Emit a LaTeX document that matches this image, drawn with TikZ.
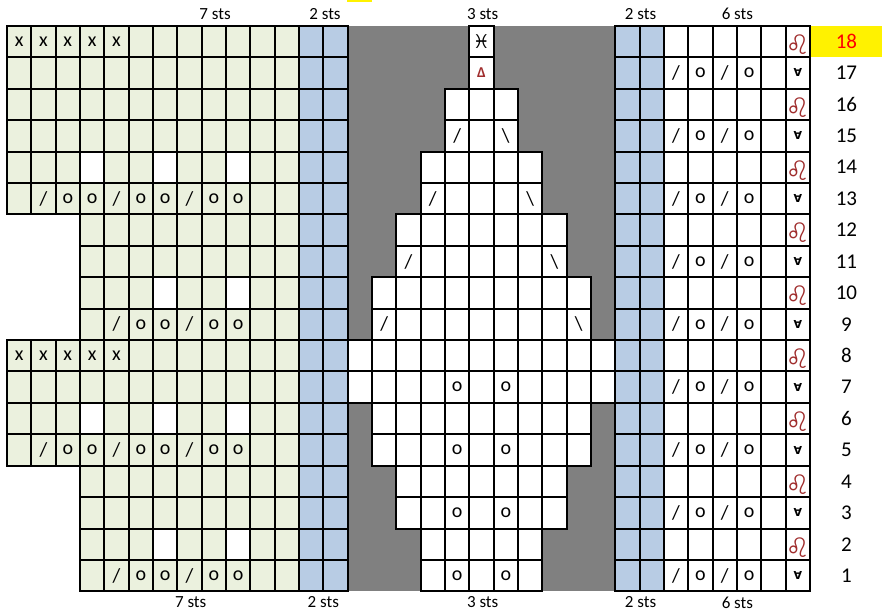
\documentclass[tikz,border=0pt]{standalone}
\usepackage{fontspec}
\setmainfont{Carlito}
\newfontfamily\symbolfont{DejaVu Sans}
\definecolor{lacegreen}{RGB}{235,241,222}
\definecolor{edgeblue}{RGB}{184,204,228}
\definecolor{nostitch}{RGB}{128,128,128}
\definecolor{symred}{RGB}{160,45,45}

\begin{document}
\begin{tikzpicture}[
    x=24.33pt, y=31.42pt,
    font=\fontsize{20}{24}\selectfont,
    cell/.style={
      rectangle,draw=black,fill=white,line width=2pt,
      minimum width=24.33pt,minimum height=31.42pt,inner sep=0pt
    },
    gcell/.style={cell,fill=lacegreen},
    bcell/.style={cell,fill=edgeblue},
    sym/.style={inner sep=0pt},
    leo/.style={sym,text=symred,font=\symbolfont\fontsize{27}{27}\selectfont},
    slip/.style={sym,font=\symbolfont\bfseries\fontsize{11}{11}\selectfont},
    stslabel/.style={font=\fontsize{17}{20}\selectfont},
    rownum/.style={font=\fontsize{21}{24}\selectfont,minimum width=71pt,
      minimum height=31.42pt,inner sep=0pt}
  ]
  \useasboundingbox (-0.2877,-0.6875) rectangle (35.963,18.822);

  % background of the centre panel
  \fill[nostitch] (14,0) rectangle (25,18);
  \fill[yellow] (13.97,18.75) rectangle (14.99,18.9);

  % left panel
  \foreach \r/\a in {18/0,17/0,16/0,15/0,14/0,13/0,12/3,11/3,10/3,9/3,
                     8/0,7/0,6/0,5/0,4/3,3/3,2/3,1/3}
    \foreach \c in {\a,...,11}
      \node[gcell] (l-\r-\c) at (\c+0.5,\r-0.5) {};
  \foreach \r/\c in {14/3,14/6,14/9,10/6,10/9,6/3,6/6,6/9,2/6,2/9}
    \node[cell] (h-\r-\c) at (l-\r-\c) {};

  % edge columns
  \foreach \r in {1,...,18}
    \foreach \c in {12,13,25,26}
      \node[bcell] (b-\r-\c) at (\c+0.5,\r-0.5) {};

  % centre panel
  \foreach \r/\a/\b in {18/19/19,17/19/19,16/18/20,15/18/20,14/17/21,13/17/21,
                        12/16/22,11/16/22,10/15/23,9/15/23,8/14/24,7/14/24,
                        6/15/23,5/15/23,4/16/22,3/16/22,2/17/21,1/17/21}
    \foreach \c in {\a,...,\b}
      \node[cell] (m-\r-\c) at (\c+0.5,\r-0.5) {};

  % right panel
  \foreach \r in {1,...,18}
    \foreach \c in {27,...,32}
      \node[cell] (r-\r-\c) at (\c+0.5,\r-0.5) {};

  % left panel symbols
  \foreach \r in {18,8}
    \foreach \c in {0,...,4}
      \node[sym] (k-\r-\c) at (l-\r-\c) {x};
  \foreach \r in {13,5} {
    \foreach \c in {1,4,7}
      \node[sym] (d-\r-\c) at (l-\r-\c) {/};
    \foreach \c in {2,3,5,6,8,9}
      \node[sym] (y-\r-\c) at (l-\r-\c) {o};
  }
  \foreach \r in {9,1} {
    \foreach \c in {4,7}
      \node[sym] (d-\r-\c) at (l-\r-\c) {/};
    \foreach \c in {5,6,8,9}
      \node[sym] (y-\r-\c) at (l-\r-\c) {o};
  }

  % centre panel symbols
  \node[sym,font=\symbolfont\fontsize{19}{19}\selectfont] (top) at (m-18-19) {♓};
  \node[sym,text=symred,font=\bfseries\fontsize{15}{15}\selectfont] (dec) at (m-17-19) {Δ};
  \foreach \r/\a/\b in {15/18/20,13/17/21,11/16/22,9/15/23} {
    \node[sym] (dl-\r) at (m-\r-\a) {/};
    \node[sym] (dr-\r) at (m-\r-\b) {\textbackslash};
  }
  \foreach \r in {7,5,3,1}
    \foreach \c in {18,20}
      \node[sym] (yo-\r-\c) at (m-\r-\c) {o};

  % right panel symbols
  \foreach \r in {1,3,...,17} {
    \node[sym] (rd-\r-27) at (r-\r-27) {/};
    \node[sym] (ro-\r-28) at (r-\r-28) {o};
    \node[sym] (rd-\r-29) at (r-\r-29) {/};
    \node[sym] (ro-\r-30) at (r-\r-30) {o};
    \node[slip] (sl-\r) at (r-\r-32) {∀};
  }
  \foreach \r in {2,4,...,18}
    \node[leo] (lo-\r) at ([yshift=-3pt]r-\r-32) {♌};

  % row numbers
  \node[rownum,fill=yellow,text=red] (n-18) at (34.5,17.5) {18};
  \foreach \r in {1,...,17}
    \node[rownum] (n-\r) at (34.5,\r-0.5) {\r};

  % stitch counts
  \node[stslabel] (t1) at (8.55,18.38) {7 sts};
  \node[stslabel] (t2) at (13.07,18.38) {2 sts};
  \node[stslabel] (t3) at (19.55,18.38) {3 sts};
  \node[stslabel] (t4) at (26.04,18.38) {2 sts};
  \node[stslabel] (t5) at (30.02,18.38) {6 sts};
  \node[stslabel] (u1) at (7.55,-0.35) {7 sts};
  \node[stslabel] (u2) at (13.0,-0.35) {2 sts};
  \node[stslabel] (u3) at (19.55,-0.35) {3 sts};
  \node[stslabel] (u4) at (26.04,-0.35) {2 sts};
  \node[stslabel] (u5) at (30.02,-0.35) {6 sts};
\end{tikzpicture}
\end{document}
